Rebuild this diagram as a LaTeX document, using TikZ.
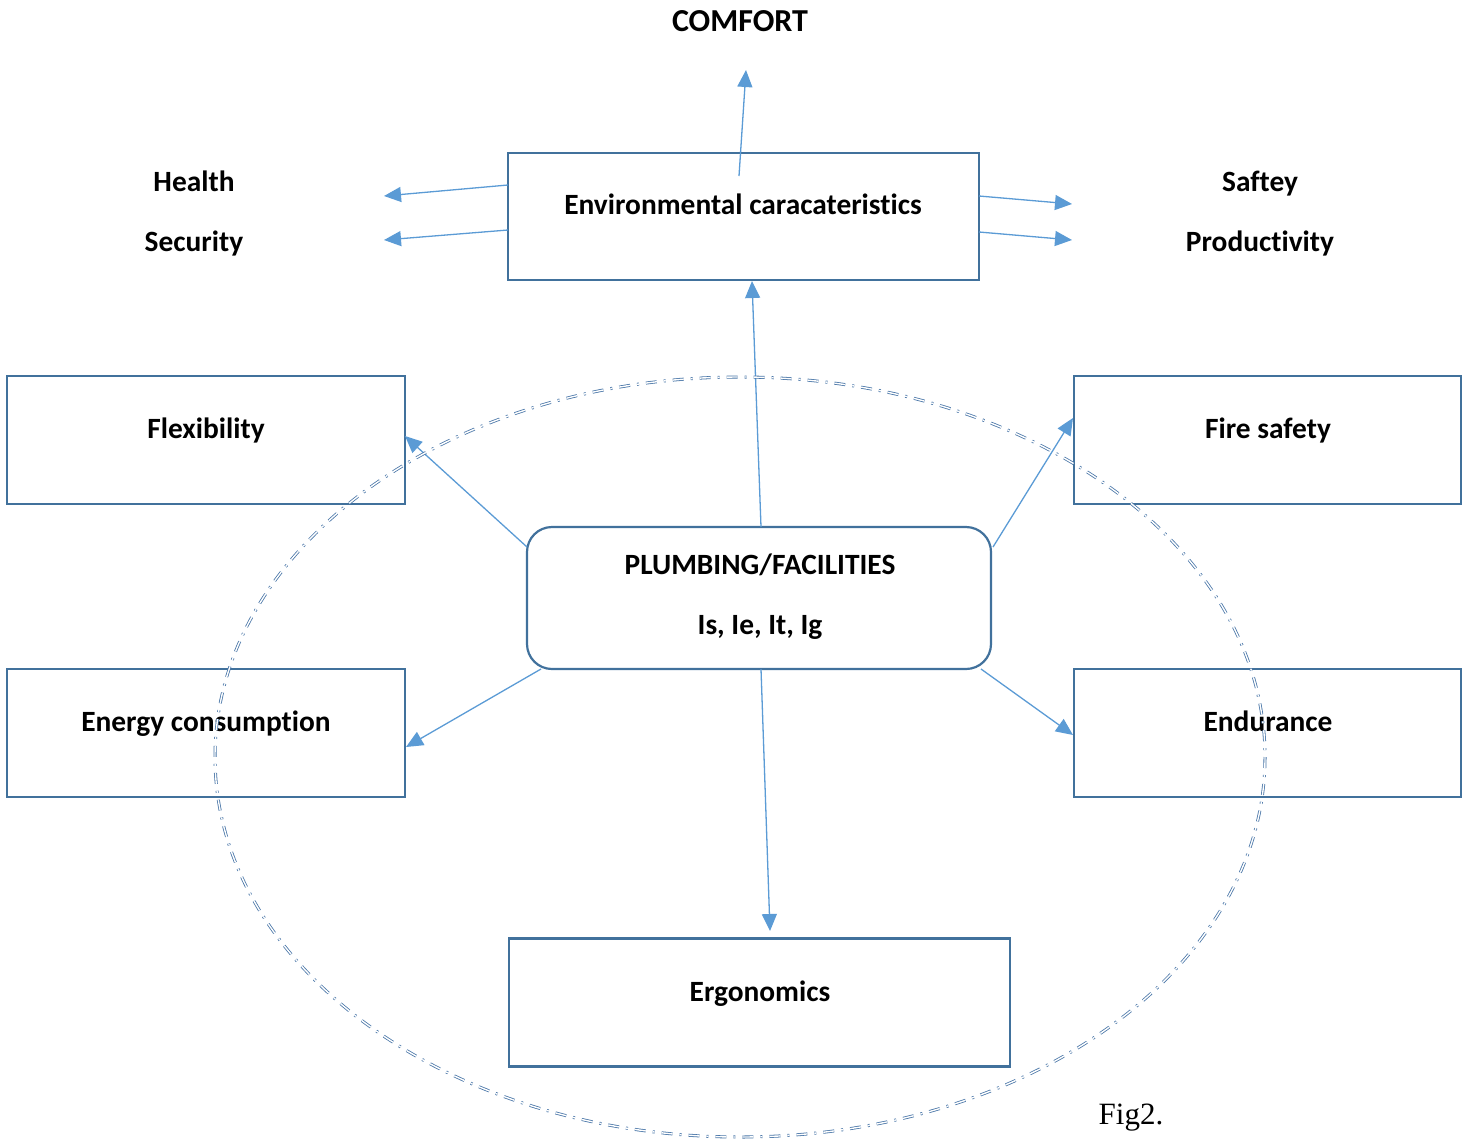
\documentclass[tikz,border=0pt]{standalone}
\usepackage{fontspec}
\setmainfont{Carlito}[Ligatures={NoCommon}]
\newfontfamily\timesf{Liberation Serif}
\usetikzlibrary{arrows.meta}
\definecolor{boxc}{HTML}{41719C}
\definecolor{arrc}{HTML}{5B9BD5}
\definecolor{ellc}{HTML}{4A76A8}
\tikzset{
  box/.style={draw=boxc, line width=2.2pt, minimum width=#1, minimum height=128pt, inner sep=0pt},
  lbl/.style={font=\fontsize{29.4}{34}\selectfont\bfseries, inner sep=0pt, text height=22pt, text depth=3pt},
  arr/.style={draw=arrc, line width=1.3pt, -{Triangle[length=17pt,width=15pt]}},
}
\begin{document}
\begin{tikzpicture}[x=1pt,y=-1pt]
\useasboundingbox (0,0) rectangle (1463,1140);
% boxes
\node[box=471pt, minimum height=127pt] (env) at (743.5,216.5) {};
\node[box=398pt] (flex) at (206,440) {};
\node[box=387pt] (fire) at (1267.5,440) {};
\node[box=398pt] (energy) at (206,733) {};
\node[box=387pt] (endu) at (1267.5,733) {};
\node[box=501pt] (ergo) at (759.5,1002.5) {};
\node[draw=boxc, line width=2.2pt, rounded corners=25pt, minimum width=464pt, minimum height=142pt, inner sep=0pt] (plumb) at (759,598) {};
% texts
\node[lbl] (tenv) at (743,205) {Environmental caracateristics};
\node[lbl, font=\fontsize{32}{38}\selectfont\bfseries, text height=24pt, text depth=3pt] (comfort) at (740,21) {COMFORT};
\node[lbl] (health) at (194,182) {Health};
\node[lbl] (security) at (194,242) {Security};
\node[lbl] (saftey) at (1260,182) {Saftey};
\node[lbl] (prod) at (1260,242) {Productivity};
\node[lbl] (tflex) at (206,429) {Flexibility};
\node[lbl] (tfire) at (1268,429) {Fire safety};
\node[lbl] (tenergy) at (206,722) {Energy consumption};
\node[lbl] (tendu) at (1268,722) {Endurance};
\node[lbl] (tergo) at (760,992) {Ergonomics};
\node[lbl] (tplumb) at (760,565) {PLUMBING/FACILITIES};
\node[lbl] (tis) at (760,625) {Is, Ie, It, Ig};
\node[inner sep=0pt, font=\timesf\fontsize{31}{36}\selectfont] (fig) at (1131,1118) {Fig2.};
% connector end points
\coordinate (cA) at (739,176);
\coordinate (cB) at (746,70);
\coordinate (hA) at (508,185); \coordinate (hB) at (384,196);
\coordinate (sA) at (508,230); \coordinate (sB) at (384,240);
\coordinate (fA) at (979,196); \coordinate (fB) at (1072,204);
\coordinate (pA) at (979,232); \coordinate (pB) at (1072,240);
\coordinate (uA) at (761,527); \coordinate (uB) at (752,281);
\coordinate (flA) at (527,547); \coordinate (flB) at (405,436);
\coordinate (fiA) at (993,547); \coordinate (fiB) at (1073,418);
\coordinate (enA) at (541,669); \coordinate (enB) at (406,747);
\coordinate (edA) at (981,669); \coordinate (edB) at (1073,735);
\coordinate (erA) at (761,669); \coordinate (erB) at (770,931);
\draw[arr] (cA) -- (cB);
\draw[arr] (hA) -- (hB);
\draw[arr] (sA) -- (sB);
\draw[arr] (fA) -- (fB);
\draw[arr] (pA) -- (pB);
\draw[arr] (uA) -- (uB);
\draw[arr] (flA) -- (flB);
\draw[arr] (fiA) -- (fiB);
\draw[arr] (enA) -- (enB);
\draw[arr] (edA) -- (edB);
\draw[arr] (erA) -- (erB);
% ellipse
\coordinate (ec) at (740,757);
\draw[draw=ellc, line width=0.8pt, double=white, double distance=1.4pt,
  dash pattern=on 11pt off 7pt on 2pt off 7pt] (ec) ellipse [x radius=525, y radius=380];
\end{tikzpicture}
\end{document}
